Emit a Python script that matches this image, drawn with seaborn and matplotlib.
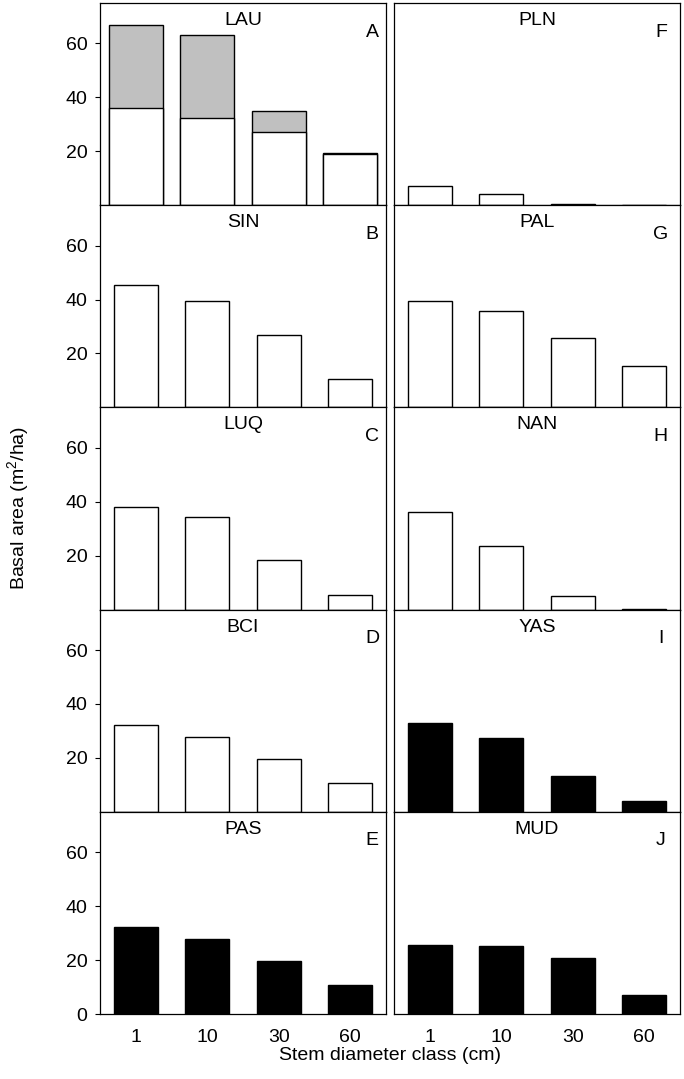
import matplotlib
matplotlib.use("Agg")
import matplotlib.pyplot as plt
import seaborn as sns
import pandas as pd

# ---- data ----
classes = ["1", "10", "30", "60"]
panel_order = [["LAU", "PLN"], ["SIN", "PAL"], ["LUQ", "NAN"], ["BCI", "YAS"], ["PAS", "MUD"]]
panel_letters = [["A", "F"], ["B", "G"], ["C", "H"], ["D", "I"], ["E", "J"]]

LAU_total = [67.0, 63.3, 35.0, 19.2]
LAU_lower = [35.9, 32.3, 27.3, 18.9]
PLN = [7.1, 4.3, 0.4, 0.0]
SIN = [45.3, 39.6, 26.8, 10.7]
PAL = [39.5, 35.9, 25.8, 15.4]
LUQ = [38.1, 34.2, 18.3, 5.3]
NAN = [36.1, 23.7, 5.1, 0.4]
BCI = [32.1, 27.6, 19.6, 10.8]
YAS = [33.0, 27.3, 13.4, 4.1]
PAS = [32.1, 27.8, 19.8, 10.9]
MUD = [25.6, 25.3, 20.9, 7.1]

series = {"LAU": LAU_lower, "PLN": PLN, "SIN": SIN, "PAL": PAL, "LUQ": LUQ,
          "NAN": NAN, "BCI": BCI, "YAS": YAS, "PAS": PAS, "MUD": MUD}
fill = {"LAU": "white", "PLN": "white", "SIN": "white", "PAL": "white", "LUQ": "white",
        "NAN": "white", "BCI": "white", "YAS": "black", "PAS": "black", "MUD": "black"}

sns.set_style("ticks")
plt.rcParams["font.family"] = ["Liberation Sans", "DejaVu Sans"]
plt.rcParams["mathtext.fontset"] = "custom"
plt.rcParams["mathtext.rm"] = "Liberation Sans"
plt.rcParams["mathtext.it"] = "Liberation Sans:italic"
for k in ["text.color", "axes.labelcolor", "xtick.color", "ytick.color", "axes.edgecolor"]:
    plt.rcParams[k] = "black"

FS = 14
fig, axes = plt.subplots(5, 2, figsize=(6.84, 10.79), dpi=100)
fig.subplots_adjust(left=100/684, right=680/684, top=1-3/1079, bottom=1-1014/1079,
                    wspace=0.028, hspace=0.0)

for r in range(5):
    for c in range(2):
        ax = axes[r, c]
        name = panel_order[r][c]
        df = pd.DataFrame({"cls": classes, "val": series[name]})
        if name == "LAU":
            dft = pd.DataFrame({"cls": classes, "val": LAU_total})
            sns.barplot(data=dft, x="cls", y="val", order=classes, color="#c0c0c0",
                        edgecolor="black", linewidth=1.0, width=0.76, saturation=1, ax=ax)
            sns.barplot(data=df, x="cls", y="val", order=classes, color="white",
                        edgecolor="black", linewidth=1.0, width=0.76, saturation=1, ax=ax)
        else:
            sns.barplot(data=df, x="cls", y="val", order=classes, color=fill[name],
                        edgecolor="black", linewidth=1.0, width=0.61, saturation=1, ax=ax)
        ax.set_xlim(-0.5, 3.5)
        ax.set_ylim(0, 75)
        ax.set_xlabel("")
        ax.set_ylabel("")
        for s in ax.spines.values():
            s.set_visible(True)
            s.set_linewidth(0.9)
            s.set_color("black")
        ax.text(0.5, 0.913, name, transform=ax.transAxes, ha="center", va="center", fontsize=FS)
        lx = 0.951 if c == 0 else 0.933
        ax.text(lx, 0.856, panel_letters[r][c], transform=ax.transAxes, ha="center",
                va="center", fontsize=FS)
        if c == 0:
            ax.set_yticks([0, 20, 40, 60] if r == 4 else [20, 40, 60])
            ax.tick_params(axis="y", direction="out", length=3.5, width=0.8, pad=5.5,
                           labelsize=FS, left=True, labelleft=True)
        else:
            ax.set_yticks([])
            ax.tick_params(axis="y", left=False, labelleft=False)
        if r == 4:
            ax.set_xticks(range(4))
            ax.set_xticklabels(classes)
            ax.tick_params(axis="x", length=0, pad=11, labelsize=FS)
        else:
            ax.tick_params(axis="x", bottom=False, labelbottom=False)

fig.text(18/684, 1-508/1079, r"Basal area (m$^\mathregular{2}$/ha)", rotation=90,
         ha="center", va="center", fontsize=FS)
fig.text(390/684, 1-1056/1079, "Stem diameter class (cm)", ha="center", va="center", fontsize=FS)

fig.savefig("out.png", dpi=100)
